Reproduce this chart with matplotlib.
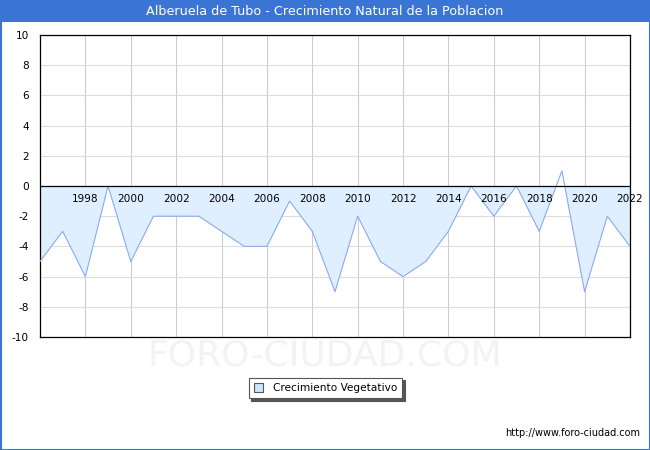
import matplotlib
matplotlib.use("Agg")
import matplotlib.pyplot as plt
from matplotlib.patches import Rectangle, Patch
import numpy as np

years = list(range(1996, 2023))
values = [-5, -3, -6, 0, -5, -2, -2, -2, -3, -4, -4, -1, -3, -7, -2, -5, -6, -5, -3, 0, -2, 0, -3, 1, -7, -2, -4]
year_labels = list(range(1998, 2023, 2))
y_ticks = list(range(-10, 11, 2))
title = "Alberuela de Tubo - Crecimiento Natural de la Poblacion"
series_name = "Crecimiento Vegetativo"

W, H = 650, 450
fig = plt.figure(figsize=(6.5, 4.5), dpi=100)
fig.patch.set_facecolor("white")

# outer blue border and title bar
fig.add_artist(Rectangle((0.5 / W, 0.5 / H), 1 - 1 / W, 1 - 1 / H, transform=fig.transFigure,
                         fill=False, edgecolor="#3a75d6", linewidth=1.5))
fig.add_artist(Rectangle((0, 1 - 22 / H), 1, 22 / H, transform=fig.transFigure,
                         facecolor="#3a75d6", edgecolor="none"))
fig.text(0.5, 1 - 11.5 / H, title, ha="center", va="center", color="white", fontsize=9.2)

left, right, top, bottom = 40, 630, 35, 337
ax = fig.add_axes([left / W, 1 - bottom / H, (right - left) / W, (bottom - top) / H])
ax.set_xlim(1996, 2022)
ax.set_ylim(-10, 10)

yv = np.array(values, dtype=float)
ax.fill_between(years, yv, 0, where=yv <= 0, interpolate=True,
                color="#e0efff", linewidth=0, zorder=1)
ax.plot(years, values, color="#88aaee", linewidth=0.8, zorder=3)
ax.axhline(0, color="black", linewidth=0.9, zorder=4)

ax.set_yticks(y_ticks)
ax.set_yticklabels([str(v) for v in y_ticks], fontsize=7.6)
ax.set_xticks(year_labels)
ax.set_xticklabels([])
ax.tick_params(axis="both", length=0, pad=8)
ax.grid(True, axis="y", color="#dddddd", linewidth=0.8, zorder=0)
ax.grid(True, axis="x", color="#cccccc", linewidth=0.8, zorder=0)
ax.set_axisbelow(True)
for s in ax.spines.values():
    s.set_linewidth(0.9)
    s.set_color("black")

for yr in year_labels:
    ax.annotate(str(yr), (yr, 0), xytext=(0, -9), textcoords="offset points",
                ha="center", va="center", fontsize=7.6, zorder=5)

# watermark
fig.text(0.5, 1 - 355 / H, "FORO-CIUDAD.COM", ha="center", va="center",
         fontsize=26, color="#f2f2f7", zorder=0)

# legend
leg = fig.legend(handles=[Patch(facecolor="#cce4ff", edgecolor="#555555", linewidth=0.8, label=series_name)],
                 loc="center", bbox_to_anchor=(325.5 / W, 1 - 388 / H), fontsize=7.6,
                 frameon=True, fancybox=False, shadow={"color": "#555555", "alpha": 1},
                 handlelength=0.9, handleheight=0.9, borderpad=0.5, handletextpad=0.9)
leg.get_frame().set_edgecolor("#555555")
leg.get_frame().set_linewidth(0.8)

fig.text(640 / W, 1 - 433 / H, "http://www.foro-ciudad.com", ha="right", va="center", fontsize=7)

fig.savefig("out.png", dpi=100)
